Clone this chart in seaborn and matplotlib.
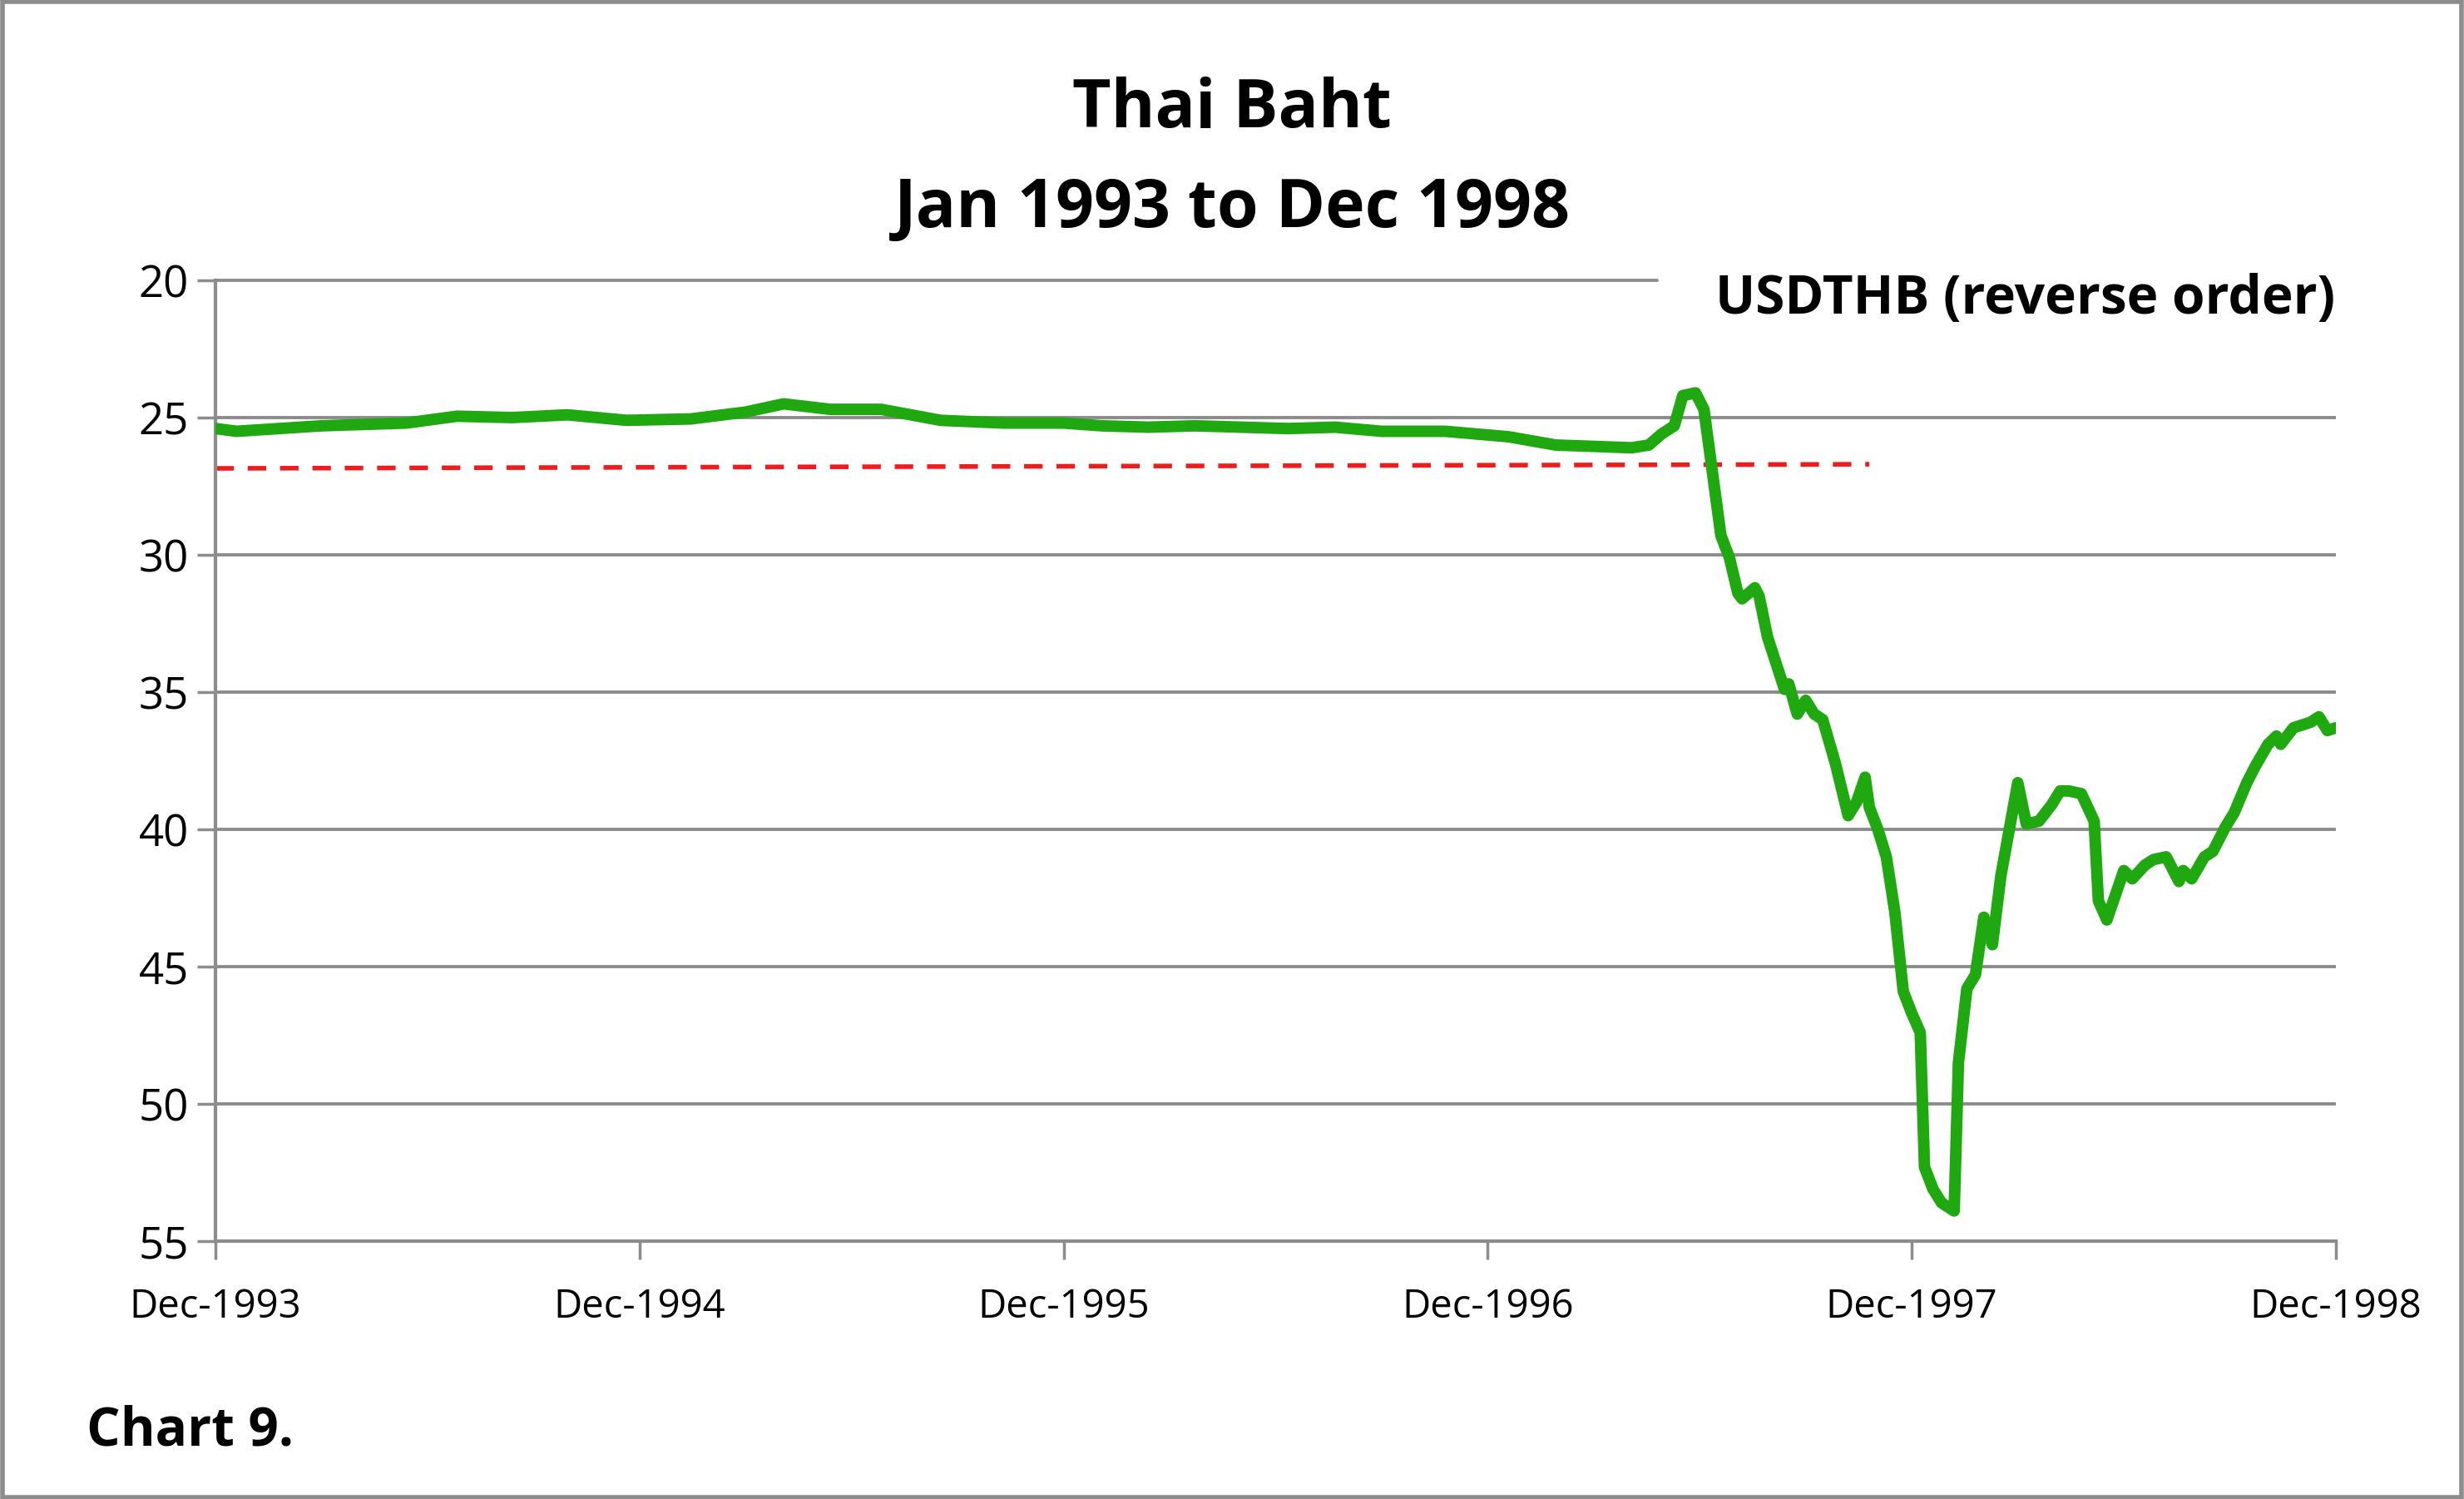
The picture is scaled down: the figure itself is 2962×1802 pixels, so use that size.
import matplotlib
matplotlib.use("Agg")
import matplotlib.pyplot as plt
import seaborn as sns
import pandas as pd

sns.set_theme(style="white")
plt.rcParams['font.family'] = ['Open Sans', 'DejaVu Sans']
plt.rcParams['text.color'] = 'black'
plt.rcParams['xtick.color'] = 'black'
plt.rcParams['ytick.color'] = 'black'

# years since Dec-1993
years = [0.00,0.05,0.15,0.25,0.35,0.45,0.57,0.70,0.83,0.97,1.12,1.25,1.34,1.45,1.57,1.71,1.86,2.00,2.09,2.20,2.31,2.42,2.53,2.64,2.75,2.90,3.05,3.16,3.25,3.34,3.38,3.41,3.44,3.46,3.49,3.51,
         3.53,3.55,3.57,3.59,3.60,3.63,3.64,3.66,3.70,3.71,3.73,3.75,3.77,3.79,3.82,3.85,3.87,3.89,3.90,3.92,3.94,3.96,3.98,4.00,4.02,4.03,4.05,4.07,4.10,4.11,4.13,4.15,4.17,4.19,4.21,4.25,4.27,4.30,4.33,4.35,4.37,4.40,4.43,4.44,4.46,4.50,4.52,4.55,4.57,4.60,4.63,4.64,4.66,4.69,4.71,4.74,4.76,4.79,4.81,4.84,4.86,4.87,4.90,4.94,4.96,4.98,5.00]
usdthb = [25.4,25.5,25.4,25.3,25.25,25.2,24.95,25.0,24.9,25.1,25.05,24.8,24.5,24.7,24.7,25.1,25.2,25.2,25.3,25.35,25.3,25.35,25.4,25.35,25.5,25.5,25.7,26.0,26.05,26.1,26.0,25.6,25.3,24.2,24.1,24.7,
          27.0,29.3,30.1,31.4,31.6,31.2,31.5,33.0,34.9,34.7,35.8,35.3,35.8,36.0,37.6,39.5,39.0,38.1,39.2,40.0,41.0,43.0,45.9,46.7,47.4,52.3,53.1,53.6,53.9,48.5,45.8,45.3,43.2,44.2,41.7,38.3,39.8,39.7,39.1,38.6,38.6,38.7,39.7,42.6,43.3,41.5,41.8,41.3,41.1,41.0,41.9,41.5,41.8,41.0,40.8,39.9,39.4,38.3,37.7,36.9,36.6,36.9,36.3,36.1,35.9,36.4,36.3]
ref_years = [0.0, 3.90]
ref_vals = [26.85, 26.7]
tick_labels = ["Dec-1993", "Dec-1994", "Dec-1995", "Dec-1996", "Dec-1997", "Dec-1998"]

fig = plt.figure(figsize=(14.81, 9.01), dpi=200)
ax = fig.add_axes([0.0874, 0.172, 0.8606, 0.641])
ax.set_xlim(0, 5)
ax.set_ylim(55, 20)
for v in [25, 30, 35, 40, 45, 50]:
    ax.axhline(v, color="#8c8c8c", lw=1.4, zorder=0)
ax.axhline(20, xmax=0.68, color="#8c8c8c", lw=1.4, zorder=0, clip_on=False)

df = pd.DataFrame({"x": years, "y": usdthb})
sns.lineplot(data=df, x="x", y="y", sort=False, color="#1fa80f", lw=5, ax=ax, zorder=3)
ax.plot(ref_years, ref_vals, color="#ee1c1c", lw=2, ls=(0, (4, 3)), zorder=2)

ax.set_xticks(range(6))
ax.set_xticklabels(tick_labels, fontsize=17)
ax.set_yticks([20, 25, 30, 35, 40, 45, 50, 55])
ax.tick_params(axis="y", labelsize=19, length=8, color="#8c8c8c", direction="out", left=True)
ax.tick_params(axis="x", length=8, color="#8c8c8c", direction="out", bottom=True, pad=12)
ax.set_xlabel(""); ax.set_ylabel("")
for s in ["top", "right"]:
    ax.spines[s].set_visible(False)
for s in ["left", "bottom"]:
    ax.spines[s].set_color("#8c8c8c"); ax.spines[s].set_linewidth(1.5)

fig.text(0.5, 0.927, "Thai Baht", ha="center", va="center", fontsize=29, fontweight="bold")
fig.text(0.5, 0.86, "Jan 1993 to Dec 1998", ha="center", va="center", fontsize=29, fontweight="bold")
fig.text(0.822, 0.80, "USDTHB (reverse order)", ha="center", va="center", fontsize=23, fontweight="bold")
fig.text(0.035, 0.045, "Chart 9.", ha="left", va="center", fontsize=23, fontweight="bold")
fig.patches.append(plt.Rectangle((0.001, 0.001), 0.998, 0.998, transform=fig.transFigure,
                                 fill=False, edgecolor="#8c8c8c", lw=2))
fig.savefig("out.png", dpi=200)
